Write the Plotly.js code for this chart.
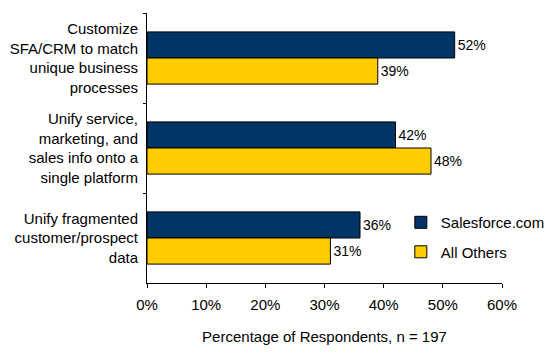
<!DOCTYPE html>
<html>
<head>
<meta charset="utf-8">
<script src="https://cdn.plot.ly/plotly-3.0.1.min.js"></script>
<style>html,body{margin:0;padding:0;background:#fff}#chart{width:551px;height:357px}</style>
</head>
<body>
<div id="chart"></div>
<script>
var categories = [
  "Customize<br>SFA/CRM to match<br>unique business<br>processes",
  "Unify service,<br>marketing, and<br>sales info onto a<br>single platform",
  "Unify fragmented<br>customer/prospect<br>data"
];
var salesforce = [52, 42, 36];
var allOthers = [39, 48, 31];
var seriesNames = ["Salesforce.com", "All Others"];

function pct(a){ return a.map(function(v){ return v + "%"; }); }

var font = "Liberation Sans, Arial, sans-serif";
var traces = [
  {type:"bar", orientation:"h", name:seriesNames[0], y:categories, x:salesforce,
   text:pct(salesforce), textposition:"outside", cliponaxis:false,
   textfont:{family:font,size:14,color:"#000"}, legendgroup:"a",
   marker:{color:"#033466", line:{color:"#000", width:1}}},
  {type:"bar", orientation:"h", name:seriesNames[1], y:categories, x:allOthers,
   text:pct(allOthers), textposition:"outside", cliponaxis:false,
   textfont:{family:font,size:14,color:"#000"}, legendgroup:"b",
   marker:{color:"#FFCC00", line:{color:"#000", width:1}}}
];
var layout = {
  width:551, height:357,
  margin:{l:147, r:49, t:13, b:74, autoexpand:false},
  paper_bgcolor:"#fff", plot_bgcolor:"#fff",
  font:{family:font, size:15, color:"#000"},
  barmode:"group", bargap:0.42, bargroupgap:0,
  showlegend:true,
  legend:{x:0.715, y:0.285, xanchor:"left", yanchor:"top", traceorder:"grouped",
    tracegroupgap:7, font:{family:font,size:15,color:"#000"}, bgcolor:"rgba(0,0,0,0)"},
  xaxis:{range:[0,60], dtick:10, ticksuffix:"%", showgrid:false, zeroline:false,
    showline:true, linecolor:"#000", linewidth:1, ticks:"outside", ticklen:4, tickcolor:"#000",
    tickfont:{family:font,size:15}, ticklabelstandoff:4,
    title:{text:"Percentage of Respondents, n = 197", font:{family:font,size:15}, standoff:19}},
  yaxis:{autorange:"reversed", showgrid:false, zeroline:false, showline:true, linecolor:"#000",
    linewidth:1, ticks:"outside", ticklen:3, tickcolor:"#000", tickson:"boundaries",
    tickfont:{family:font,size:15}, ticklabelstandoff:5}
};
Plotly.newPlot("chart", traces, layout, {displayModeBar:false, staticPlot:true});
</script>
</body>
</html>
